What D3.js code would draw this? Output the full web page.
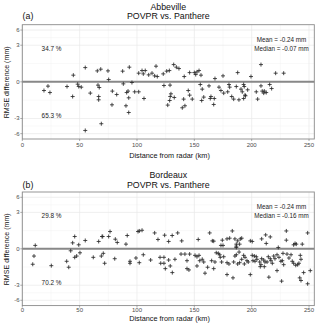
<!DOCTYPE html>
<html><head><meta charset="utf-8">
<script src="https://cdn.jsdelivr.net/npm/d3@7"></script>
<style>
body{margin:0;background:#fff}
svg{display:block}
text{font-family:"Liberation Sans",Arial,Helvetica,sans-serif}
</style>
</head><body><svg id="c" width="320" height="328"></svg>
<script>
// ---- data ----
const xTicks = [0, 50, 100, 150, 200, 250];
const xMinorTicks = [25, 75, 125, 175, 225];
const yTicks = [-6, -3, 0, 3, 6];
const panelTags = ["(a)", "(b)"];
const siteNames = ["Abbeville", "Bordeaux"];
const comparison = "POVPR vs. Panthere";
const abovePct = ["34.7 %", "29.8 %"];
const belowPct = ["65.3 %", "70.2 %"];
const meanLabels = ["Mean = -0.24 mm", "Mean = -0.24 mm"];
const medianLabels = ["Median = -0.07 mm", "Median = -0.16 mm"];
const xTitle = "Distance from radar (km)";
const yTitle = "RMSE difference (mm)";

const abbevilleDist = [54.9,44.5,65.4,68.4,74.7,75.3,87.5,93.3,101.5,104.4,107.2,105.5,110.2,113.1,115.4,117.7,116.6,122.9,125.9,128.2,132,134.3,136.6,141.2,145.9,150,151.2,152.3,154.1,155.8,168,175,187.8,199.4,208.1,220.9,227.9,
 18.9,22.4,24.1,39,43.9,48.3,49.2,51.4,59.3,66,67.1,66.6,66.6,54.9,68.9,78.5,82.3,78.2,88.1,91,92.2,92.8,90.4,92.8,95.6,98,101.5,106.1,123.5,128.8,129.6,129,132.5,128.5,126.8,144.7,145.9,140.7,148.2,141.8,139.5,155.2,156.9,156.4,158.2,162.8,163.9,164.5,167.4,166.9,171.5,173.2,175.6,179.1,180.2,180.8,182.6,184.3,186.6,188.9,190.7,191.8,193,193.5,194.2,194.6,193,196.5,204,205.2,208.1,209.2,210.5,211,212.7,215.7,217.4];
const abbevilleDiff = [0.455,0.10,0.269,0.359,0.269,0.012,0.255,0.481,0.168,0.284,0.284,0.142,0.109,0.168,0.08,0.063,0.548,0.142,0.255,0.284,0.666,0.481,0.394,0.063,0.192,0.192,0.119,0.222,0.284,0.1,0.024,0.08,0.192,0.063,0.666,0.168,0.168,
 -0.168,-0.041,-0.255,-0.049,-0.481,-0.012,-0.049,-0.063,-0.284,-0.024,-0.072,-0.481,-0.721,-5.28,-3.92,-0.192,-0.359,-1.177,-0.009,-0.255,-0.192,-0.57,-1.28,-2.10,-0.001,-0.222,-0.222,-0.62,-0.03,-0.024,-0.32,-0.481,-0.548,-0.778,-1.208,-0.168,-0.394,-0.666,-0.666,-1.28,-1.504,-0.016,-0.119,-0.778,-0.52,-0.036,-0.62,-0.481,-0.62,-1.146,-0.063,-0.168,-0.284,-0.222,-0.016,-0.063,-0.481,-0.666,-0.049,-0.721,-0.119,-0.222,-0.016,-0.049,-0.394,-0.436,-0.62,-0.142,-0.222,-0.666,-0.036,-0.192,-0.284,-0.192,-0.255,-0.016,-0.1];

const bordeauxDist = [11.3,43.9,45.7,49.2,54.9,66.6,69.5,70.1,75.3,76.5,81.1,82.8,90.4,91.5,100.9,102,104.4,115.4,118.3,124.1,127.6,130.7,135.5,139,153.4,163.4,165.7,166.9,173.2,175,174.4,178.5,180.8,183.1,185.4,186.6,186.6,186.6,187.8,190.1,191.3,189.5,198.8,200.5,208.7,212.2,212.7,216.2,223.2,230.2,230.2,236.6,237.8,238.9,244.1,248.8,
 10.2,9.1,25.3,38.7,40.5,42.2,45.7,47.4,50.3,61.9,68.9,70.6,71.8,80.6,93.9,93.9,99.1,102,105.5,111.9,120.1,123.5,120.7,123.5,124.7,127.6,129,130.8,133.1,138.4,141.8,145.9,143.6,145.3,143.6,150.6,152.3,154.1,154.7,152.3,156.9,158.2,159.3,161.6,165.1,166.9,168,169.1,170.9,172.1,172.6,175.6,173.8,178.5,180.2,178.5,183.7,184.3,185.4,186.6,189,187.8,189.5,191.3,193,194.2,193.6,195.9,197,198.8,200.5,202.3,204,201.1,202.9,204.6,207,208.7,210.5,211.6,208.1,207.5,211,214.5,213.4,216.2,216.8,218,219.2,220.3,222.1,223.8,225.5,226.7,227.3,227.9,215,222.1,226.1,230.8,232.5,234.3,235.4,236.6,238.4,241.2,242.4,243,240.1,241.9,243,245.3,251.1,248.8];
const bordeauxDiff = [0.026,0.08,0.342,0.036,0.157,0.122,0.342,0.342,0.342,0.674,0.209,0.091,0.049,0.40,0.674,0.721,0.778,0.57,0.197,0.418,0.122,0.40,0.57,0.142,0.197,0.57,0.142,0.132,0.026,0.026,0.168,0.222,0.255,0.721,0.222,0.049,0.016,0.004,0.142,0.222,0.255,0.049,0.142,0.122,0.222,0.436,0.065,0.32,0.004,0.721,0.168,0.036,0.065,0.049,0.049,0.57,
 -0.119,-0.541,-0.643,-0.353,-0.77,-0.009,-0.165,-0.119,-0.036,-0.165,-0.119,-0.047,-0.474,-0.222,-0.353,-0.474,-0.192,-0.436,-0.08,-0.284,-0.165,-0.165,-0.474,-0.474,-0.89,-0.284,-0.666,-1.28,-0.25,-0.063,-0.063,-0.063,-0.32,-1.01,-0.89,-0.097,-0.142,-0.097,-0.32,-0.666,-0.25,-0.394,-1.346,-0.77,-0.32,-0.89,-0.394,-0.036,-0.047,-0.08,-0.165,-0.142,-0.394,-0.436,-0.52,-1.504,-1.91,-0.394,-0.119,-0.08,-0.024,-0.52,-0.436,-0.25,-0.097,-0.165,-0.52,-0.32,-0.394,-1.504,-0.097,-0.119,-0.142,-0.32,-0.353,-0.25,-0.394,-0.222,-0.284,-0.394,-0.57,-0.721,-0.721,-0.142,-0.394,-0.222,-0.32,-0.474,-0.119,-0.222,-0.08,-0.165,-0.353,-0.32,-0.047,-0.57,-1.82,-1.077,-2.365,-0.063,-0.192,-0.08,-0.353,-0.474,-0.613,-0.474,-0.097,-0.25,-0.574,-1.91,-2.278,-1.28,-1.077,-2.77];

// ---- layout ----
const svg = d3.select("#c");
const X0 = 22.3, X1 = 314.3;
const x = d3.scaleLinear().domain([0, 254.6]).range([X0, X1]);
const yLim = 7.3;

const panels = [
  {dist: abbevilleDist, diff: abbevilleDiff, top: 24.7, bottom: 139.0, tickY: 144.8, titleY: 155.0, t1: 7.3, t2: 16.4},
  {dist: bordeauxDist, diff: bordeauxDiff, top: 192.0, bottom: 305.6, tickY: 310.3, titleY: 318.4, t1: 174.7, t2: 184.6}
];

function minorBreaks(ticks) {
  const out = [];
  for (let i = 0; i < ticks.length - 1; i++) {
    const a = Math.sign(ticks[i]) * Math.sqrt(Math.abs(ticks[i]));
    const b = Math.sign(ticks[i+1]) * Math.sqrt(Math.abs(ticks[i+1]));
    const m = (a + b) / 2;
    out.push(Math.sign(m) * m * m);
  }
  return out;
}

panels.forEach((p, i) => {
  const y = d3.scalePow().exponent(0.5).domain([-yLim, yLim]).range([p.bottom, p.top]);
  const g = svg.append("g");

  // minor grid
  g.selectAll(".vmin").data(xMinorTicks).join("line")
    .attr("x1", d => x(d)).attr("x2", d => x(d)).attr("y1", p.top).attr("y2", p.bottom)
    .attr("stroke", "#f2f2f2").attr("stroke-width", 0.5);
  g.selectAll(".hmin").data(minorBreaks(yTicks)).join("line")
    .attr("x1", X0).attr("x2", X1).attr("y1", d => y(d)).attr("y2", d => y(d))
    .attr("stroke", "#f2f2f2").attr("stroke-width", 0.5);
  // major grid
  g.selectAll(".vmaj").data(xTicks).join("line")
    .attr("x1", d => x(d)).attr("x2", d => x(d)).attr("y1", p.top).attr("y2", p.bottom)
    .attr("stroke", "#e8e8e8").attr("stroke-width", 0.7);
  g.selectAll(".hmaj").data(yTicks).join("line")
    .attr("x1", X0).attr("x2", X1).attr("y1", d => y(d)).attr("y2", d => y(d))
    .attr("stroke", "#e8e8e8").attr("stroke-width", 0.7);

  // zero line
  g.append("line").attr("x1", X0).attr("x2", X1).attr("y1", y(0)).attr("y2", y(0))
    .attr("stroke", "#888").attr("stroke-width", 2);

  // points
  const pts = p.dist.map((d, k) => [d, p.diff[k]]);
  g.selectAll(".pt").data(pts).join("path")
    .attr("transform", d => `translate(${x(d[0])},${y(d[1])})`)
    .attr("d", "M-2,0H2M0,-2V2")
    .attr("stroke", "#2b2b2b").attr("stroke-width", 0.85).attr("fill", "none");

  // border
  g.append("rect").attr("x", X0).attr("y", p.top).attr("width", X1 - X0).attr("height", p.bottom - p.top)
    .attr("fill", "none").attr("stroke", "#8a8a8a").attr("stroke-width", 0.9);

  // ticks
  g.selectAll(".yt").data(yTicks).join("line")
    .attr("x1", X0 - 2).attr("x2", X0).attr("y1", d => y(d)).attr("y2", d => y(d))
    .attr("stroke", "#777").attr("stroke-width", 0.6);
  g.selectAll(".xt").data(xTicks).join("line")
    .attr("x1", d => x(d)).attr("x2", d => x(d)).attr("y1", p.bottom).attr("y2", p.bottom + 2)
    .attr("stroke", "#777").attr("stroke-width", 0.6);
  g.selectAll(".ytl").data(yTicks).join("text")
    .attr("x", X0 - 2.6).attr("y", d => y(d)).attr("text-anchor", "end").attr("dominant-baseline", "central")
    .attr("font-size", 6).attr("fill", "#4d4d4d").text(d => d);
  g.selectAll(".xtl").data(xTicks).join("text")
    .attr("x", d => x(d)).attr("y", p.tickY).attr("text-anchor", "middle").attr("dominant-baseline", "central")
    .attr("font-size", 6).attr("fill", "#4d4d4d").text(d => d);

  // axis titles
  g.append("text").attr("x", 169.5).attr("y", p.titleY).attr("text-anchor", "middle")
    .attr("dominant-baseline", "central").attr("font-size", 7.3).attr("fill", "#111").text(xTitle);
  g.append("text").attr("transform", `translate(7,${(p.top + p.bottom) / 2 + 0.5}) rotate(-90)`)
    .attr("text-anchor", "middle").attr("dominant-baseline", "central")
    .attr("font-size", 7.1).attr("fill", "#111").text(yTitle);

  // titles
  g.append("text").attr("x", 168.3).attr("y", p.t1).attr("text-anchor", "middle").attr("dominant-baseline", "central")
    .attr("font-size", 8.8).attr("fill", "#111").text(siteNames[i]);
  g.append("text").attr("x", 168.3).attr("y", p.t2).attr("text-anchor", "middle").attr("dominant-baseline", "central")
    .attr("font-size", 8.8).attr("fill", "#111").text(comparison);
  g.append("text").attr("x", 22.6).attr("y", p.t2).attr("text-anchor", "start").attr("dominant-baseline", "central")
    .attr("font-size", 8.8).attr("fill", "#111").text(panelTags[i]);

  // annotations
  g.append("text").attr("x", x(25.5)).attr("y", y(2.5)).attr("text-anchor", "middle").attr("dominant-baseline", "central")
    .attr("font-size", 6.4).attr("fill", "#222").text(abovePct[i]);
  g.append("text").attr("x", x(25.5)).attr("y", y(-2.55)).attr("text-anchor", "middle").attr("dominant-baseline", "central")
    .attr("font-size", 6.4).attr("fill", "#222").text(belowPct[i]);
  g.append("text").attr("x", x(226)).attr("y", y(4.03)).attr("text-anchor", "middle").attr("dominant-baseline", "central")
    .attr("font-size", 6.3).attr("fill", "#222").text(meanLabels[i]);
  g.append("text").attr("x", x(226)).attr("y", y(2.5)).attr("text-anchor", "middle").attr("dominant-baseline", "central")
    .attr("font-size", 6.3).attr("fill", "#222").text(medianLabels[i]);
});
</script>
</body></html>
